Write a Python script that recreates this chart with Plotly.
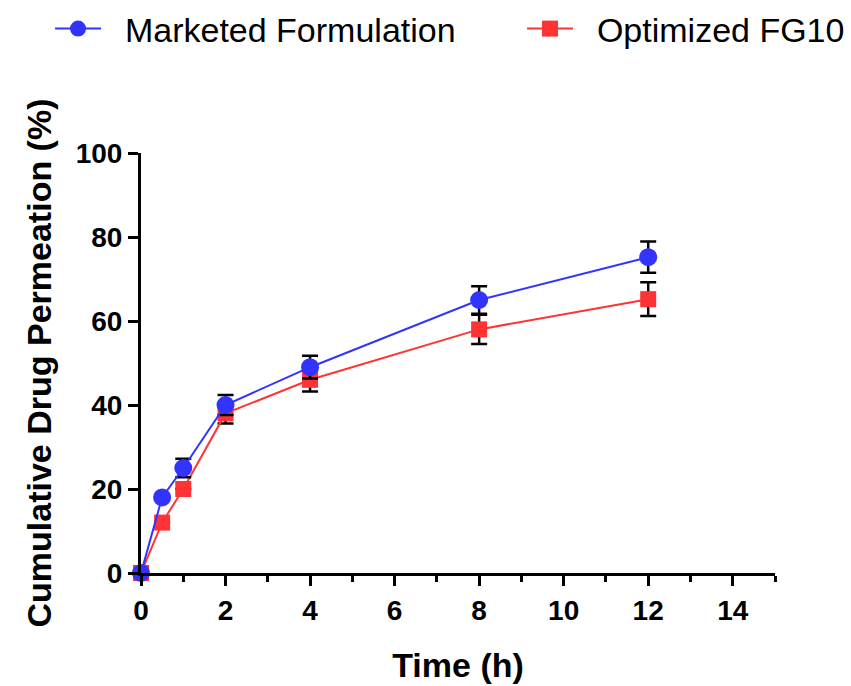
import plotly.graph_objects as go

time_h = [0, 0.5, 1, 2, 4, 8, 12]
marketed = [0, 18, 25, 40, 49, 65, 75.2]
marketed_err = [0, 0, 2.2, 2.4, 2.7, 3.3, 3.7]
optimized = [0, 12, 20, 38, 46, 58, 65.2]
optimized_err = [0, 0, 0, 2.4, 2.8, 3.5, 4.0]

x_ticks = [0, 2, 4, 6, 8, 10, 12, 14]
y_ticks = [0, 20, 40, 60, 80, 100]

blue = "rgb(51,51,255)"
red = "rgb(255,51,51)"
FONT = "Liberation Sans, Arial, sans-serif"
PAD = "\u00a0\u00a0"

fig = go.Figure()
fig.add_trace(go.Scatter(
    x=time_h, y=optimized, name=PAD + "Optimized FG10", mode="lines+markers",
    line=dict(color=red, width=2),
    marker=dict(symbol="square", size=16, color=red),
    error_y=dict(type="data", array=optimized_err, visible=True,
                 color="black", thickness=2.5, width=8),
    cliponaxis=False, legend="legend2",
))
fig.add_trace(go.Scatter(
    x=time_h, y=marketed, name=PAD + "Marketed Formulation", mode="lines+markers",
    line=dict(color=blue, width=2),
    marker=dict(symbol="circle", size=18, color=blue),
    error_y=dict(type="data", array=marketed_err, visible=True,
                 color="black", thickness=2.5, width=8),
    cliponaxis=False, legend="legend",
))

leg_common = dict(orientation="h", xref="container", yref="container",
                  xanchor="left", yanchor="top",
                  font=dict(size=34, family=FONT, color="black"),
                  itemwidth=46, bgcolor="rgba(0,0,0,0)")

fig.update_layout(
    width=851, height=686,
    margin=dict(l=141, r=76, t=153, b=113, autoexpand=False),
    plot_bgcolor="white", paper_bgcolor="white",
    font=dict(family=FONT, color="black"),
    showlegend=True,
    legend=dict(x=0.0588, y=1.0, **leg_common),
    legend2=dict(x=0.6134, y=1.0, **leg_common),
    xaxis=dict(range=[0, 15], tickvals=x_ticks, showline=True, linecolor="black",
               linewidth=3, ticks="outside", ticklen=10, tickwidth=3, tickcolor="black",
               showgrid=False, zeroline=False, automargin=False,
               tickfont=dict(size=28, family=FONT, weight="bold"),
               minor=dict(dtick=1, ticks="outside", ticklen=6, tickwidth=3, tickcolor="black",
                          showgrid=False),
               title=dict(text="Time (h)", font=dict(size=34, family=FONT, weight="bold"),
                          standoff=29)),
    yaxis=dict(range=[0, 100], tickvals=y_ticks, showline=True, linecolor="black",
               linewidth=3, ticks="outside", ticklen=10, tickwidth=3, tickcolor="black",
               showgrid=False, zeroline=False, automargin=False,
               tickfont=dict(size=28, family=FONT, weight="bold"),
               title=dict(text="Cumulative Drug Permeation (%)",
                          font=dict(size=34, family=FONT, weight="bold"), standoff=14)),
)

fig.write_html("out.html")
